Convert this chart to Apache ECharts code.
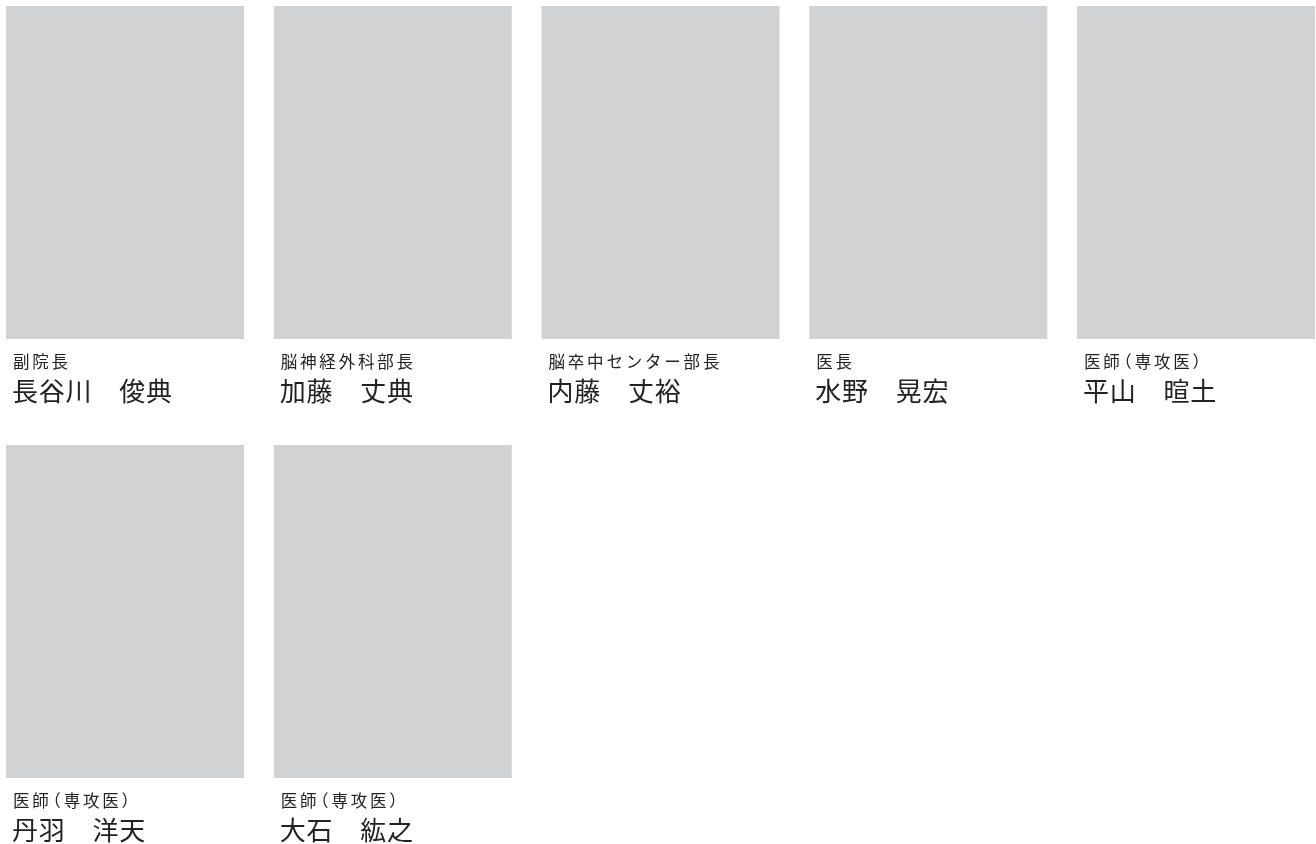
<!DOCTYPE html>
<html>
<head>
<meta charset="utf-8">
<script src="https://cdn.jsdelivr.net/npm/echarts@6/dist/echarts.min.js"></script>
<style>
  html, body { margin: 0; padding: 0; background: #fff; }
  #chart { width: 1316px; height: 844px; }
</style>
</head>
<body>
<div id="chart"></div>
<script>
// 役職・氏名・配置（列, 行）
var titles = ['副院長', '脳神経外科部長', '脳卒中センター部長', '医長', '医師（専攻医）', '医師（専攻医）', '医師（専攻医）'];
var names = ['長谷川　俊典', '加藤　丈典', '内藤　丈裕', '水野　晃宏', '平山　暄土', '丹羽　洋天', '大石　紘之'];
var cols = [0, 1, 2, 3, 4, 0, 1];
var rows = [0, 0, 0, 0, 0, 1, 1];

var FONT = '"Noto Sans CJK JP"';
var measureCtx = document.createElement('canvas').getContext('2d');

/**
 * 字間つきで1文字ずつ並べる（括弧は半角幅で詰める）
 */
function spacedText(x, y, str, size, spacing) {
    var els = [];
    var cx = x;
    measureCtx.font = size + 'px ' + FONT;
    for (var i = 0; i < str.length; i++) {
        var ch = str.charAt(i);
        var adv = measureCtx.measureText(ch).width;
        var dx = 0;
        if (ch == '（') {
            dx = -size / 2 + 1;
            adv = size / 2 + 1;
        } else if (ch == '）') {
            adv = size / 2;
        }
        els.push({
            type: 'text',
            x: cx + dx,
            y: y,
            style: {
                text: ch,
                fill: '#222',
                font: size + 'px ' + FONT,
                textVerticalAlign: 'middle'
            }
        });
        cx += adv + spacing;
    }
    return els;
}

var chart = echarts.init(document.getElementById('chart'));

var data = [];
for (var i = 0; i < names.length; i++) {
    data.push([cols[i], rows[i], titles[i], names[i]]);
}

var option = {
    animation: false,
    grid: {
        left: 6,
        top: 6,
        width: 1071,
        height: 439
    },
    xAxis: {
        type: 'value',
        min: 0,
        max: 4,
        show: false
    },
    yAxis: {
        type: 'value',
        min: 0,
        max: 1,
        inverse: true,
        show: false
    },
    series: [{
        type: 'custom',
        clip: false,
        data: data,
        renderItem: function(params, api) {
            var p = api.coord([api.value(0), api.value(1)]);
            var step = api.size([1, 1]);
            var w = step[0] * 238 / 267.75;
            var h = step[1] * 333 / 439;
            var idx = params.dataIndex;
            var children = [{
                type: 'rect',
                shape: { x: p[0], y: p[1], width: w, height: h },
                style: { fill: '#d1d2d4' }
            }];
            children = children.concat(spacedText(p[0] + 7, p[1] + 355.5, data[idx][2], 16.5, 2.8));
            children = children.concat(spacedText(p[0] + 6, p[1] + 385, data[idx][3], 26, 0.8));
            return {
                type: 'group',
                children: children
            };
        }
    }]
};

chart.setOption(option);
</script>
</body>
</html>
